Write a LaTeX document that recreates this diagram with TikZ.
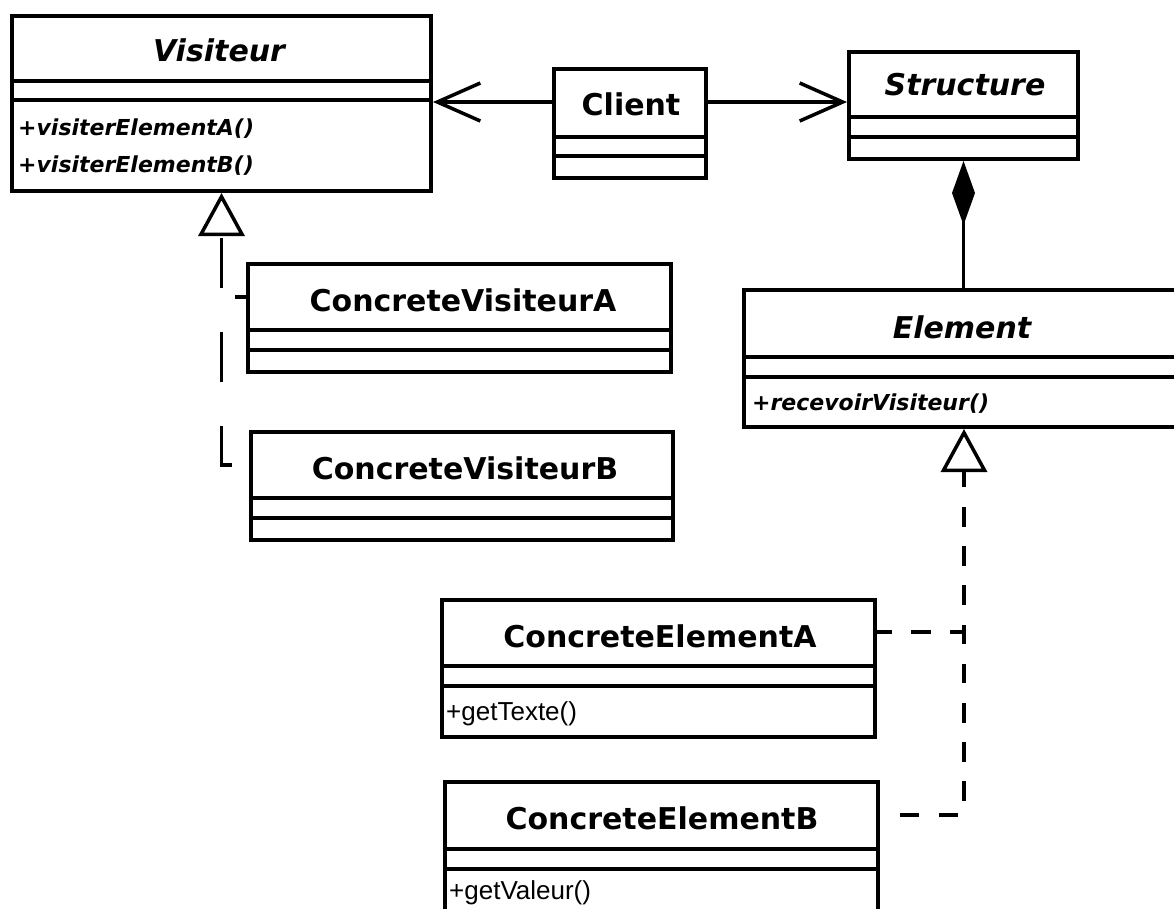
\documentclass[tikz,border=0pt]{standalone}
\usepackage{fontspec}
\setmainfont{DejaVu Sans}
\newfontfamily\arialfont{Liberation Sans}
\usetikzlibrary{arrows.meta}
\begin{document}
\begin{tikzpicture}[x=1pt,y=-1pt,
  umlbox/.style={draw, line width=4pt, inner sep=0pt, anchor=north west},
  divline/.style={line width=4pt},
  ctitle/.style={font=\fontsize{30}{36}\selectfont\bfseries, inner sep=0pt},
  atitle/.style={font=\fontsize{30}{36}\selectfont\bfseries\itshape, inner sep=0pt},
  ameth/.style={font=\fontsize{22}{26}\selectfont\bfseries\itshape, anchor=west, inner sep=0pt},
  cmeth/.style={font=\arialfont\fontsize{26}{30}\selectfont, anchor=west, inner sep=0pt},
  assoc/.style={line width=3.5pt, -{Straight Barb[length=43pt,width=38pt,line width=3.5pt]}},
  compo/.style={line width=3.5pt, -{Diamond[length=64pt,width=23pt]}},
  realshort/.style={line width=3.5pt, dash pattern=on 19.6pt off 19.6pt},
  reallong/.style={line width=3.5pt, dash pattern=on 50pt off 44pt},
  openhead/.style={-{Triangle[open, length=43pt, width=46pt, line width=3.5pt, fill=white]}}
]
\useasboundingbox (0,0) rectangle (1174,908);
\clip (0,0) rectangle (1174,908);
\fill[white] (0,0) rectangle (1174,908);

% Visiteur
\node[umlbox, minimum width=419pt, minimum height=175pt] (vis) at (10,14) {};
\draw[divline] (vis.west |- 0,81) -- (vis.east |- 0,81);
\draw[divline] (vis.west |- 0,100) -- (vis.east |- 0,100);
\node[atitle] (visT) at (219,50) {Visiteur};
\node[ameth] (visA) at (18,129) {+visiterElementA()};
\node[ameth] (visB) at (18,166) {+visiterElementB()};

% Client
\node[umlbox, minimum width=152pt, minimum height=109pt] (cli) at (552,67) {};
\draw[divline] (cli.west |- 0,137) -- (cli.east |- 0,137);
\draw[divline] (cli.west |- 0,156) -- (cli.east |- 0,156);
\node[ctitle] (cliT) at (631,104) {Client};

% Structure
\node[umlbox, minimum width=229pt, minimum height=107pt] (str) at (847,50) {};
\draw[divline] (str.west |- 0,117) -- (str.east |- 0,117);
\draw[divline] (str.west |- 0,137) -- (str.east |- 0,137);
\node[atitle] (strT) at (965,85) {Structure};

% Element
\node[umlbox, minimum width=440pt, minimum height=137pt] (elem) at (742,288) {};
\draw[divline] (elem.west |- 0,357) -- (elem.east |- 0,357);
\draw[divline] (elem.west |- 0,377) -- (elem.east |- 0,377);
\node[atitle] (elemT) at (962,327) {Element};
\node[ameth] (elemM) at (752,404) {+recevoirVisiteur()};

% ConcreteVisiteurA
\node[umlbox, minimum width=423pt, minimum height=108pt] (cva) at (246,262) {};
\draw[divline] (cva.west |- 0,330) -- (cva.east |- 0,330);
\draw[divline] (cva.west |- 0,350) -- (cva.east |- 0,350);
\node[ctitle] (cvaT) at (463,300) {ConcreteVisiteurA};

% ConcreteVisiteurB
\node[umlbox, minimum width=422pt, minimum height=108pt] (cvb) at (249,430) {};
\draw[divline] (cvb.west |- 0,498) -- (cvb.east |- 0,498);
\draw[divline] (cvb.west |- 0,518) -- (cvb.east |- 0,518);
\node[ctitle] (cvbT) at (465,468) {ConcreteVisiteurB};

% ConcreteElementA
\node[umlbox, minimum width=433pt, minimum height=137pt] (cea) at (440,598) {};
\draw[divline] (cea.west |- 0,666) -- (cea.east |- 0,666);
\draw[divline] (cea.west |- 0,686) -- (cea.east |- 0,686);
\node[ctitle] (ceaT) at (660,636) {ConcreteElementA};
\node[cmeth] (ceaM) at (446,714) {+getTexte()};

% ConcreteElementB
\node[umlbox, minimum width=433pt, minimum height=160pt] (ceb) at (443,780) {};
\draw[divline] (ceb.west |- 0,849) -- (ceb.east |- 0,849);
\draw[divline] (ceb.west |- 0,869) -- (ceb.east |- 0,869);
\node[ctitle] (cebT) at (662,818) {ConcreteElementB};
\node[cmeth] (cebM) at (449,893) {+getValeur()};

% Associations
\draw[assoc] (cli.west |- 0,102) -- (vis.east |- 0,102);
\draw[assoc] (cli.east |- 0,102) -- (str.west |- 0,102);

% Composition
\draw[compo] (elem.north -| str.south) -- (str.south);

% Realisations (Element)
\draw[realshort, openhead, dash phase=19.6pt] (ceb.east |- 0,815) -| (elem.south);
\draw[realshort, dash phase=5pt] (cea.east |- 0,632) -- (elem.south |- 0,632);

% Realisations (Visiteur)
\draw[reallong, openhead, dash phase=77pt] (cvb.west |- 0,465) -| (vis.south);
\draw[reallong, dash phase=39pt] (cva.west |- 0,297) -- (vis.south |- 0,297);
\end{tikzpicture}
\end{document}
